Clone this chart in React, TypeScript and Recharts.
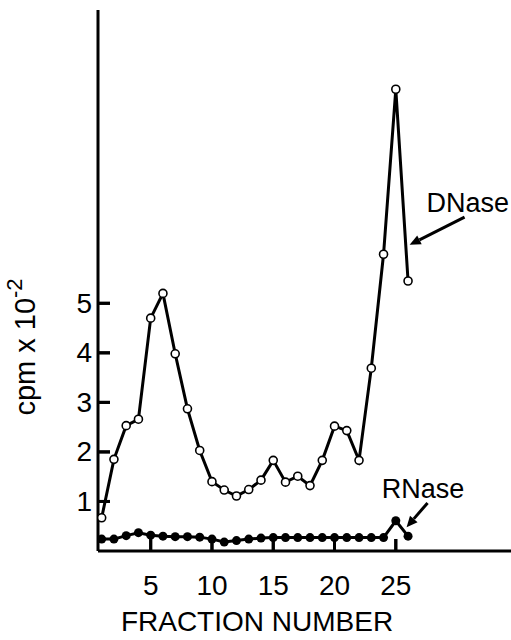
import React from 'react';
import { LineChart, Line, XAxis, YAxis, ReferenceLine, ReferenceDot } from 'recharts';

// fraction numbers and counts (cpm x 10^-2)
const fractions = [1, 2, 3, 4, 5, 6, 7, 8, 9, 10, 11, 12, 13, 14, 15, 16, 17, 18, 19, 20, 21, 22, 23, 24, 25, 26];
const dnase = [0.67, 1.85, 2.53, 2.66, 4.7, 5.2, 3.98, 2.87, 2.03, 1.4, 1.23, 1.11, 1.24, 1.43, 1.83, 1.39, 1.51, 1.32, 1.83, 2.52, 2.43, 1.83, 3.69, 5.99, 9.32, 5.45];
const rnase = [0.24, 0.24, 0.31, 0.37, 0.32, 0.3, 0.29, 0.29, 0.28, 0.24, 0.18, 0.21, 0.24, 0.26, 0.27, 0.27, 0.27, 0.27, 0.27, 0.27, 0.27, 0.27, 0.27, 0.27, 0.61, 0.3];
const xTicks = [5, 10, 15, 20, 25];
const yTicks = [1, 2, 3, 4, 5];
const xDomain = [0.7, 34.4];
const yDomain = [0, 10.92];

const data = fractions.map((f, i) => ({ fraction: f, dnase: dnase[i], rnase: rnase[i] }));

const FONT = '"Liberation Sans", Arial, sans-serif';

const YTick = (props: any) => {
  const { x, y, payload } = props;
  const px = Number(x);
  const py = Number(y);
  return (
    <g>
      <path d={`M${px},${py}h12`} stroke="#000" strokeWidth={3} fill="none" />
      <text x={px - 6} y={py} textAnchor="end" dominantBaseline="central" fontSize={28} fontFamily={FONT} fill="#000">
        {payload.value}
      </text>
    </g>
  );
};

const XTick = (props: any) => {
  const { x, y, payload } = props;
  const px = Number(x);
  const py = Number(y);
  return (
    <g>
      <path d={`M${px},${py}v-12`} stroke="#000" strokeWidth={3} fill="none" />
      <text x={px} y={py + 34} textAnchor="middle" dominantBaseline="central" fontSize={28} fontFamily={FONT} fill="#000">
        {payload.value}
      </text>
    </g>
  );
};

// inward tick marks, drawn from the axis point the reference line resolves to
const YTickMark = (p: any) => <path d={`M${p.x1},${p.y1}h12`} stroke="#000" strokeWidth={3} fill="none" />;
const XTickMark = (p: any) => <path d={`M${p.x1},${p.y1}v-12`} stroke="#000" strokeWidth={3} fill="none" />;

const YLabel = (props: any) => {
  const vb = props.viewBox;
  const cx = vb.x + 25;
  const cy = vb.y + 337;
  return (
    <text
      x={cx}
      y={cy}
      transform={`rotate(-90 ${cx} ${cy})`}
      textAnchor="middle"
      dominantBaseline="central"
      fontSize={29}
      fontFamily={FONT}
      fill="#000"
    >
      cpm x 10
      <tspan dy={-11} fontSize={22}>-2</tspan>
    </text>
  );
};

const XLabel = (props: any) => {
  const vb = props.viewBox;
  return (
    <text x={vb.x + 159} y={vb.y + 80} textAnchor="middle" fontSize={28} fontFamily={FONT} fill="#000">
      FRACTION NUMBER
    </text>
  );
};

const Arrow = (props: any) => {
  const { x1, y1, x2, y2 } = props;
  const ang = Math.atan2(y2 - y1, x2 - x1);
  const len = 11;
  const w = 5;
  const bx = x2 - len * Math.cos(ang);
  const by = y2 - len * Math.sin(ang);
  const px = -Math.sin(ang) * w;
  const py = Math.cos(ang) * w;
  return (
    <g>
      <line x1={x1} y1={y1} x2={bx} y2={by} stroke="#000" strokeWidth={3} />
      <polygon points={`${x2},${y2} ${bx + px},${by + py} ${bx - px},${by - py}`} fill="#000" />
    </g>
  );
};

const textShape = (label: string) => (p: any) => (
  <text x={p.cx} y={p.cy} fontSize={27} fontFamily={FONT} fill="#000">
    {label}
  </text>
);

const OpenDot = (p: any) => <circle cx={p.cx} cy={p.cy} r={4} fill="#fff" stroke="#000" strokeWidth={1.6} />;
const FilledDot = (p: any) => <circle cx={p.cx} cy={p.cy} r={4.5} fill="#000" stroke="none" />;

export default function App() {
  return (
    <div style={{ position: 'absolute', left: 0, top: 0, background: '#fff' }}>
      <LineChart width={511} height={640} data={data} margin={{ top: 10, right: 0, bottom: 0, left: 0 }}>
        <XAxis
          dataKey="fraction"
          type="number"
          domain={xDomain}
          ticks={xTicks}
          allowDataOverflow
          height={89}
          axisLine={{ stroke: '#000', strokeWidth: 3 }}
          tickLine={false}
          tickSize={0}
          tickMargin={0}
          tick={<XTick />}
          label={XLabel}
        />
        <YAxis
          type="number"
          domain={yDomain}
          ticks={yTicks}
          allowDataOverflow
          width={98}
          axisLine={{ stroke: '#000', strokeWidth: 3 }}
          tickLine={false}
          tickSize={0}
          tickMargin={0}
          tick={<YTick />}
          label={YLabel}
        />
        {yTicks.map((v) => (
          <ReferenceLine
            key={'yt' + v}
            segment={[{ x: xDomain[0], y: v }, { x: xDomain[0] + 1, y: v }]}
            shape={YTickMark}
            ifOverflow="visible"
          />
        ))}
        {xTicks.map((v) => (
          <ReferenceLine
            key={'xt' + v}
            segment={[{ x: v, y: yDomain[0] }, { x: v, y: yDomain[0] + 1 }]}
            shape={XTickMark}
            ifOverflow="visible"
          />
        ))}
        <Line
          dataKey="rnase"
          stroke="#000"
          strokeWidth={3}
          dot={FilledDot}
          activeDot={false}
          isAnimationActive={false}
        />
        <Line
          dataKey="dnase"
          stroke="#000"
          strokeWidth={3}
          dot={OpenDot}
          activeDot={false}
          isAnimationActive={false}
        />
        <ReferenceLine segment={[{ x: 30.61, y: 6.74 }, { x: 26.13, y: 6.18 }]} shape={Arrow} />
        <ReferenceLine segment={[{ x: 27.59, y: 0.97 }, { x: 25.88, y: 0.48 }]} shape={Arrow} />
        <ReferenceDot x={27.5} y={6.85} r={0} shape={textShape('DNase')} />
        <ReferenceDot x={23.85} y={1.07} r={0} shape={textShape('RNase')} />
      </LineChart>
    </div>
  );
}
